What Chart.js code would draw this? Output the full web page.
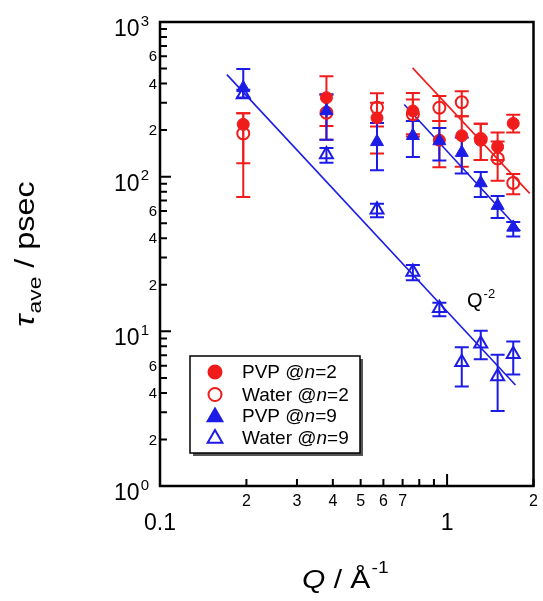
<!DOCTYPE html>
<html>
<head>
<meta charset="utf-8">
<script src="https://cdn.jsdelivr.net/npm/chart.js@4.4.1/dist/chart.umd.min.js"></script>
<style>
  html, body { margin: 0; padding: 0; background: #fff; }
  #wrap { width: 543px; height: 601px; }
</style>
</head>
<body>
<div id="wrap"><canvas id="c" width="543" height="601"></canvas></div>
<script>
/* tau_ave vs Q, log-log, with Q^-2 guide lines */

// Q / Å^-1 (same grid for all four sets)
const qVals = [0.195, 0.38, 0.57, 0.76, 0.94, 1.125, 1.31, 1.50, 1.70];

// PVP @n=2 (filled red circles)
const tauPvp2   = [218, 324, 240, 266, 172, 184, 172, 156, 221];
const loPvp2    = [122, 213, 141, 188, 115, 116, 128, 128, 193];
const hiPvp2    = [257, 446, 300, 316, 229, 246, 220, 193, 251];

// Water @n=2 (open red circles)
const tauWater2 = [190, 259, 279, 253, 279, 303, 175, 131, 91];
const loWater2  = [74, 173, 211, 182, 229, 246, 128, 94, 77];
const hiWater2  = [257, 340, 346, 348, 332, 357, 220, 169, 104];

// PVP @n=9 (filled blue triangles)
const tauPvp9   = [375, 266, 168, 184, 170, 143, 91, 65, 47];
const loPvp9    = [324, 173, 110, 134, 127, 105, 74, 54, 41];
const hiPvp9    = [497, 340, 222, 229, 206, 179, 107, 75, 51];

// Water @n=9 (open blue triangles)
const tauWater9 = [340, 139, 61, 24.2, 14.1, 6.3, 8.3, 5.1, 7.1];
const loWater9  = [324, 123, 54.7, 21.4, 12.5, 4.4, 6.6, 3.05, 5.25];
const hiWater9  = [365, 153, 66.7, 26.8, 15.3, 7.9, 10.1, 7.06, 8.6];

// guide lines (end points)
const blueLongQ  = [0.171, 1.73];
const blueLongT  = [457, 4.5];
const blueShortQ = [0.709, 1.80];
const blueShortT = [293, 44.5];
const redQ       = [0.758, 1.94];
const redT       = [505, 78];

// axis labelling
const xMinorLabels = [0.2, 0.3, 0.4, 0.5, 0.6, 0.7, 2];
const xMajorLabels = [0.1, 1];
const yMajorTicks  = [1, 10, 100, 1000];
const yMinorLabels = [2, 4, 6, 20, 40, 60, 200, 400, 600];

const RED = '#f01c1c';
const BLUE = '#1c1ce6';
const FONT = '"Liberation Sans", Arial, sans-serif';

const pts = (xs, ys) => xs.map((x, i) => ({ x, y: ys[i] }));

const legendItems = [
  { text: 'PVP @', n: '=2', style: 'circle', fill: RED, color: RED },
  { text: 'Water @', n: '=2', style: 'circle', fill: '#fff', color: RED },
  { text: 'PVP @', n: '=9', style: 'triangle', fill: BLUE, color: BLUE },
  { text: 'Water @', n: '=9', style: 'triangle', fill: '#fff', color: BLUE },
];

function supText(ctx, base, sup, x, y, size, supSize, align) {
  ctx.font = size + 'px ' + FONT;
  const w1 = ctx.measureText(base).width;
  ctx.font = supSize + 'px ' + FONT;
  const w2 = ctx.measureText(sup).width;
  let x0 = x;
  if (align === 'right') x0 = x - w1 - w2;
  if (align === 'center') x0 = x - (w1 + w2) / 2;
  ctx.textAlign = 'left';
  ctx.font = size + 'px ' + FONT;
  ctx.fillText(base, x0, y);
  ctx.font = supSize + 'px ' + FONT;
  ctx.fillText(sup, x0 + w1 + 1, y - size * 0.45);
}

const decor = {
  id: 'decor',
  beforeDatasetsDraw(chart) {
    const { ctx, scales: { x, y } } = chart;
    chart.data.datasets.forEach(ds => {
      if (!ds.errLo) return;
      ctx.save();
      ctx.strokeStyle = ds.borderColor;
      ctx.lineWidth = 2;
      ds.data.forEach((p, i) => {
        const px = x.getPixelForValue(p.x);
        const y1 = y.getPixelForValue(ds.errLo[i]);
        const y2 = y.getPixelForValue(ds.errHi[i]);
        ctx.beginPath();
        ctx.moveTo(px, y1); ctx.lineTo(px, y2);
        ctx.moveTo(px - 7, y1); ctx.lineTo(px + 7, y1);
        ctx.moveTo(px - 7, y2); ctx.lineTo(px + 7, y2);
        ctx.stroke();
      });
      ctx.restore();
    });
  },
  afterDraw(chart) {
    const { ctx, chartArea: a, scales: { x, y } } = chart;
    ctx.save();
    ctx.strokeStyle = '#000';
    ctx.fillStyle = '#000';

    // frame
    ctx.lineWidth = 2.5;
    ctx.strokeRect(a.left, a.top, a.right - a.left, a.bottom - a.top);

    // inward ticks
    ctx.lineWidth = 2;
    ctx.beginPath();
    for (let d = 1; d <= 1000; d *= 10) {
      for (let k = 1; k <= 9; k++) {
        const v = d * k;
        if (v > 1000) break;
        const py = y.getPixelForValue(v);
        ctx.moveTo(a.left, py);
        ctx.lineTo(a.left + (k === 1 ? 11 : 7), py);
      }
    }
    for (let d = 0.1; d < 2; d *= 10) {
      for (let k = 1; k <= 9; k++) {
        const v = d * k;
        if (v > 2.001) break;
        const px = x.getPixelForValue(v);
        ctx.moveTo(px, a.bottom);
        ctx.lineTo(px, a.bottom - (k === 1 ? 12 : 7));
      }
    }
    ctx.stroke();

    // y tick labels
    ctx.textBaseline = 'alphabetic';
    yMajorTicks.forEach((v, i) => {
      supText(ctx, '10', String(i), 148, y.getPixelForValue(v) + 14, 23, 15, 'right');
    });
    ctx.font = '15px ' + FONT;
    ctx.textAlign = 'right';
    ctx.textBaseline = 'middle';
    yMinorLabels.forEach(v => ctx.fillText(String(v / Math.pow(10, Math.floor(Math.log10(v)))), 157, y.getPixelForValue(v) + 1));

    // x tick labels
    ctx.textAlign = 'center';
    ctx.textBaseline = 'alphabetic';
    ctx.font = '16px ' + FONT;
    xMinorLabels.forEach(v => {
      const lbl = v < 1 ? String(Math.round(v * 10)) : String(v);
      ctx.fillText(lbl, x.getPixelForValue(v), 506);
    });
    ctx.font = '23px ' + FONT;
    xMajorLabels.forEach(v => ctx.fillText(String(v), x.getPixelForValue(v), 530));

    // x title: Q / Å^-1 (slightly widened like the original)
    ctx.save();
    ctx.translate(302, 588);
    ctx.scale(1.2, 1);
    ctx.textAlign = 'left';
    ctx.font = 'italic 25px ' + FONT;
    const wq = ctx.measureText('Q').width;
    ctx.fillText('Q', 0, 0);
    ctx.font = '25px ' + FONT;
    const wa = ctx.measureText(' / Å').width;
    ctx.fillText(' / Å', wq, 0);
    ctx.font = '16px ' + FONT;
    ctx.fillText('-1', wq + wa + 1, -15);
    ctx.restore();

    // y title: tau_ave / psec
    ctx.save();
    ctx.translate(34, 254);
    ctx.rotate(-Math.PI / 2);
    ctx.scale(1.2, 1);
    ctx.textAlign = 'left';
    ctx.textBaseline = 'alphabetic';
    ctx.font = 'italic 27px ' + FONT;
    const wt = ctx.measureText('τ').width;
    ctx.font = '19px ' + FONT;
    const ws = ctx.measureText('ave').width;
    ctx.font = '27px ' + FONT;
    const wp = ctx.measureText(' / psec').width;
    let tx = -(wt + ws + wp + 1) / 2;
    ctx.font = 'italic 27px ' + FONT;
    ctx.fillText('τ', tx, 0);
    tx += wt + 1;
    ctx.font = '19px ' + FONT;
    ctx.fillText('ave', tx, 7);
    tx += ws;
    ctx.font = '27px ' + FONT;
    ctx.fillText(' / psec', tx, 0);
    ctx.restore();

    // Q^-2 annotation
    supText(ctx, 'Q', '-2', 467, 307, 20, 13, 'left');

    // legend box with shadow
    const bx = 190, by = 356, bw = 170, bh = 97;
    ctx.fillStyle = '#555';
    ctx.fillRect(bx + 3, by + 3, bw, bh);
    ctx.fillStyle = '#fff';
    ctx.fillRect(bx, by, bw, bh);
    ctx.lineWidth = 1.5;
    ctx.strokeStyle = '#000';
    ctx.strokeRect(bx, by, bw, bh);
    const rows = [372, 394.5, 416, 437.5];
    legendItems.forEach((it, i) => {
      const ry = rows[i];
      ctx.save();
      ctx.fillStyle = it.fill;
      ctx.strokeStyle = it.color;
      ctx.lineWidth = 2;
      Chart.helpers.drawPoint(ctx, { pointStyle: it.style, radius: it.style === 'circle' ? 6.5 : 8.5, borderWidth: 2 }, 215, ry + (it.style === 'triangle' ? 1 : 0));
      ctx.restore();
      ctx.fillStyle = '#000';
      ctx.textAlign = 'left';
      ctx.textBaseline = 'middle';
      ctx.font = '19px ' + FONT;
      let lx = 242;
      ctx.fillText(it.text, lx, ry + 1);
      lx += ctx.measureText(it.text).width;
      ctx.font = 'italic 19px ' + FONT;
      ctx.fillText('n', lx, ry + 1);
      lx += ctx.measureText('n').width;
      ctx.font = '19px ' + FONT;
      ctx.fillText(it.n, lx, ry + 1);
    });
    ctx.restore();
  }
};

const lineDs = (xs, ys, color) => ({
  data: pts(xs, ys), showLine: true, borderColor: color, borderWidth: 1.6,
  pointRadius: 0, fill: false, order: 10
});

new Chart(document.getElementById('c'), {
  type: 'scatter',
  data: {
    datasets: [
      lineDs(blueLongQ, blueLongT, BLUE),
      lineDs(blueShortQ, blueShortT, BLUE),
      lineDs(redQ, redT, RED),
      { label: 'PVP @n=2', data: pts(qVals, tauPvp2), errLo: loPvp2, errHi: hiPvp2,
        pointStyle: 'circle', pointRadius: 6, backgroundColor: RED, borderColor: RED, borderWidth: 1, order: 4 },
      { label: 'Water @n=2', data: pts(qVals, tauWater2), errLo: loWater2, errHi: hiWater2,
        pointStyle: 'circle', pointRadius: 6, backgroundColor: 'rgba(255,255,255,0)', borderColor: RED, borderWidth: 2, order: 3 },
      { label: 'PVP @n=9', data: pts(qVals, tauPvp9), errLo: loPvp9, errHi: hiPvp9,
        pointStyle: 'triangle', pointRadius: 7.5, backgroundColor: BLUE, borderColor: BLUE, borderWidth: 1, order: 2 },
      { label: 'Water @n=9', data: pts(qVals, tauWater9), errLo: loWater9, errHi: hiWater9,
        pointStyle: 'triangle', pointRadius: 7.5, backgroundColor: 'rgba(255,255,255,0)', borderColor: BLUE, borderWidth: 2, order: 1 },
    ]
  },
  options: {
    responsive: false,
    animation: false,
    clip: false,
    layout: { padding: { left: 160, right: 8, top: 22, bottom: 115 } },
    plugins: { legend: { display: false }, tooltip: { enabled: false } },
    scales: {
      x: { type: 'logarithmic', min: 0.1, max: 2, display: false },
      y: { type: 'logarithmic', min: 1, max: 1000, display: false }
    }
  },
  plugins: [decor]
});
</script>
</body>
</html>
